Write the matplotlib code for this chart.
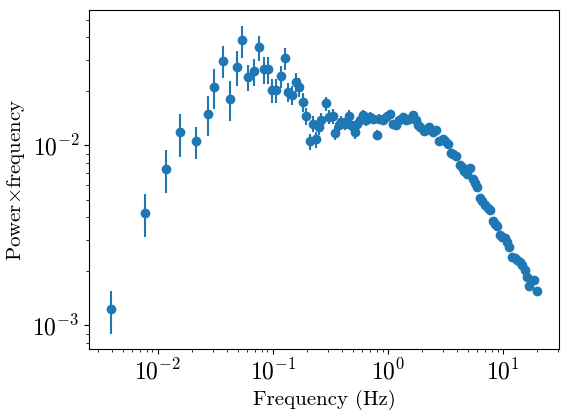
import matplotlib
matplotlib.use("Agg")
import matplotlib.pyplot as plt

plt.rcParams['font.family'] = 'serif'
plt.rcParams['font.serif'] = ['cmr10']
plt.rcParams['mathtext.fontset'] = 'cm'
plt.rcParams['axes.formatter.use_mathtext'] = True
plt.rcParams['font.size'] = 15
plt.rcParams['xtick.labelsize'] = 17
plt.rcParams['ytick.labelsize'] = 17

# frequency (Hz)
freq = [0.0039, 0.0078, 0.0117, 0.0156, 0.0215, 0.0275, 0.0308, 0.0371, 0.0424, 0.049,
        0.0542, 0.0611, 0.0688, 0.076, 0.0835, 0.091, 0.0986, 0.1076, 0.1173, 0.1279,
        0.1368, 0.1471, 0.1583, 0.169, 0.1832, 0.1944, 0.2094, 0.2236, 0.2393, 0.2506,
        0.2646, 0.2882, 0.3077, 0.3334, 0.3498, 0.3736, 0.3943, 0.4211, 0.4561, 0.4816,
        0.5143, 0.5429, 0.5683, 0.6069, 0.6497, 0.6939, 0.7414, 0.8028, 0.8472, 0.9049,
        0.9685, 1.049, 1.105, 1.183, 1.263, 1.349, 1.444, 1.543, 1.648, 1.764,
        1.82, 1.921, 2.052, 2.166, 2.299, 2.491, 2.618, 2.769, 2.999, 3.166,
        3.314, 3.548, 3.714, 3.92, 4.246, 4.445, 4.626, 4.863, 5.184, 5.461,
        5.706, 5.915, 6.368, 6.627, 7.037, 7.396, 7.729, 8.14, 8.472, 8.817,
        9.437, 9.881, 10.49, 10.92, 11.36, 12.14, 12.69, 13.41, 14.02, 14.65,
        15.64, 16.38, 16.94, 18.72, 20.0]

# power x frequency
power = [1.225e-3, 4.22e-3, 7.43e-3, 1.183e-2, 1.053e-2, 1.505e-2, 2.118e-2, 2.963e-2, 1.82e-2, 2.742e-2,
         3.855e-2, 2.41e-2, 2.58e-2, 3.51e-2, 2.66e-2, 2.66e-2, 2.04e-2, 2.04e-2, 2.42e-2, 3.053e-2,
         1.985e-2, 1.917e-2, 2.268e-2, 2.126e-2, 1.745e-2, 1.456e-2, 1.053e-2, 1.322e-2, 1.08e-2, 1.267e-2,
         1.381e-2, 1.713e-2, 1.442e-2, 1.456e-2, 1.177e-2, 1.295e-2, 1.352e-2, 1.322e-2, 1.461e-2, 1.305e-2,
         1.188e-2, 1.322e-2, 1.381e-2, 1.474e-2, 1.381e-2, 1.442e-2, 1.41e-2, 1.147e-2, 1.41e-2, 1.381e-2,
         1.442e-2, 1.494e-2, 1.322e-2, 1.295e-2, 1.381e-2, 1.442e-2, 1.381e-2, 1.41e-2, 1.474e-2, 1.381e-2,
         1.295e-2, 1.267e-2, 1.199e-2, 1.214e-2, 1.267e-2, 1.188e-2, 1.219e-2, 1.053e-2, 1.089e-2, 1.064e-2,
         1.02e-2, 9.05e-3, 8.93e-3, 8.79e-3, 7.82e-3, 7.55e-3, 7.24e-3, 6.94e-3, 7.48e-3, 6.49e-3,
         6.18e-3, 5.88e-3, 5.12e-3, 4.93e-3, 4.66e-3, 4.5e-3, 4.4e-3, 3.79e-3, 3.66e-3, 3.55e-3,
         3.16e-3, 3.11e-3, 3.05e-3, 2.9e-3, 2.74e-3, 2.41e-3, 2.36e-3, 2.31e-3, 2.24e-3, 2.16e-3,
         2.03e-3, 1.86e-3, 1.656e-3, 1.796e-3, 1.559e-3]

# relative 1-sigma errors
rel_err = [0.27, 0.27, 0.27, 0.27, 0.2, 0.25, 0.25, 0.2, 0.25, 0.22,
           0.2, 0.17, 0.17, 0.16, 0.17, 0.17, 0.15, 0.15, 0.14, 0.14,
           0.12, 0.12, 0.12, 0.12, 0.12, 0.11, 0.1, 0.1, 0.1, 0.1,
           0.1, 0.09, 0.09, 0.09, 0.09, 0.08, 0.08, 0.08, 0.08, 0.08,
           0.08, 0.07, 0.07, 0.07, 0.07, 0.06, 0.06, 0.06, 0.06, 0.06,
           0.06, 0.05, 0.05, 0.05, 0.05, 0.04, 0.04, 0.04, 0.04, 0.04,
           0.04, 0.035, 0.035, 0.03, 0.03, 0.03, 0.03, 0.03, 0.03, 0.03,
           0.03, 0.03, 0.03, 0.03, 0.03, 0.025, 0.025, 0.025, 0.025, 0.025,
           0.025, 0.025, 0.025, 0.025, 0.025, 0.025, 0.025, 0.025, 0.025, 0.025,
           0.02, 0.02, 0.02, 0.02, 0.02, 0.02, 0.02, 0.02, 0.02, 0.02,
           0.02, 0.02, 0.02, 0.02, 0.02]

err = [p * e for p, e in zip(power, rel_err)]

fig = plt.figure(figsize=(5.69, 4.19), dpi=100)
ax = fig.add_subplot(111)
fig.subplots_adjust(left=0.157, right=0.982, top=0.975, bottom=0.166)

ax.errorbar(freq, power, yerr=err, fmt='o')
ax.set_xscale('log')
ax.set_yscale('log')
ax.set_xlabel('Frequency (Hz)')
ax.set_ylabel(r'Power$\times$frequency')

plt.savefig('out.png')
